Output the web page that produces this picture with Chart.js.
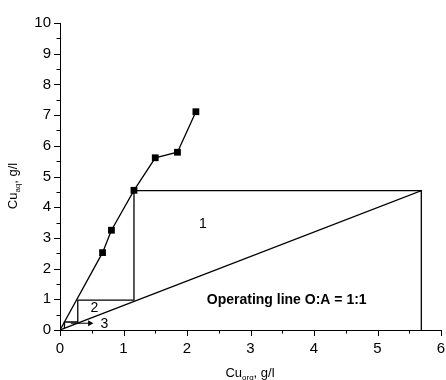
<!DOCTYPE html>
<html>
<head>
<meta charset="utf-8">
<script src="https://cdn.jsdelivr.net/npm/chart.js@4.4.1/dist/chart.umd.min.js"></script>
<style>
  body { margin: 0; background: #fff; }
  #wrap { width: 446px; height: 380px; }
</style>
</head>
<body>
<div id="wrap"><canvas id="myChart" width="446" height="380"></canvas></div>
<script>
// equilibrium curve (Cu org, Cu aq)
var eqX = [0, 0.67, 0.81, 1.165, 1.50, 1.85, 2.14];
var eqY = [0, 2.52, 3.25, 4.55, 5.61, 5.79, 7.11];

// operating line and right vertical
var opX = [0, 5.69, 5.69];
var opY = [0, 4.54, 0];

// staircase
var stepX = [5.69, 1.165, 1.165, 0.28, 0.28, 0.07, 0.07];
var stepY = [4.54, 4.54, 0.97, 0.97, 0.26, 0.26, 0.06];

// arrow toward stage 3
var arrowX = [0.17, 0.47];
var arrowY = [0.22, 0.22];

// text labels on the plot
var labelTxt = ['1', '2', '3'];
var labelX = [2.25, 0.54, 0.70];
var labelY = [3.46, 0.72, 0.20];
var noteTxt = 'Operating line O:A = 1:1';
var noteX = 3.57;
var noteY = 0.98;

var xMin = 0, xMax = 6, yMin = 0, yMax = 10;

function pts(xs, ys) {
    var out = [];
    for (var i = 0; i < xs.length; i++) out.push({x: xs[i], y: ys[i]});
    return out;
}

// ticks, labels and axis titles
var extras = {
    id: 'extras',
    afterDraw: function(chart) {
        var ctx = chart.ctx;
        var xs = chart.scales.x, ys = chart.scales.y;
        var ca = chart.chartArea;
        ctx.save();
        ctx.strokeStyle = '#000';
        ctx.lineWidth = 1;
        // tick marks, outside
        for (var v = xMin; v <= xMax + 0.001; v += 0.5) {
            var px = Math.round(xs.getPixelForValue(v)) + 0.5;
            var len = (v % 1 === 0) ? 6 : 3.5;
            ctx.beginPath(); ctx.moveTo(px, ca.bottom); ctx.lineTo(px, ca.bottom + len); ctx.stroke();
        }
        for (var w = yMin; w <= yMax + 0.001; w += 0.5) {
            var py = Math.round(ys.getPixelForValue(w)) + 0.5;
            var len2 = (w % 1 === 0) ? 6 : 3.5;
            ctx.beginPath(); ctx.moveTo(ca.left, py); ctx.lineTo(ca.left - len2, py); ctx.stroke();
        }
        ctx.fillStyle = '#000';
        ctx.textAlign = 'center';
        ctx.textBaseline = 'middle';
        ctx.font = '14px "Liberation Sans", Arial, sans-serif';
        for (var i = 0; i < labelTxt.length; i++) {
            ctx.fillText(labelTxt[i], xs.getPixelForValue(labelX[i]), ys.getPixelForValue(labelY[i]));
        }
        ctx.font = 'bold 14px "Liberation Sans", Arial, sans-serif';
        ctx.fillText(noteTxt, xs.getPixelForValue(noteX), ys.getPixelForValue(noteY));

        // axis titles with subscripts
        function title(x, y, sub) {
            ctx.textAlign = 'left';
            ctx.textBaseline = 'alphabetic';
            ctx.font = '13px "Liberation Sans", Arial, sans-serif';
            var w1 = ctx.measureText('Cu').width;
            ctx.font = '8px "Liberation Sans", Arial, sans-serif';
            var w2 = ctx.measureText(sub).width;
            ctx.font = '13px "Liberation Sans", Arial, sans-serif';
            var w3 = ctx.measureText(', g/l').width;
            var tot = w1 + w2 + w3;
            var sx = x - tot / 2;
            ctx.fillText('Cu', sx, y);
            ctx.font = '8px "Liberation Sans", Arial, sans-serif';
            ctx.fillText(sub, sx + w1, y + 3);
            ctx.font = '13px "Liberation Sans", Arial, sans-serif';
            ctx.fillText(', g/l', sx + w1 + w2, y);
        }
        title(250, 377, 'org');
        ctx.save();
        ctx.translate(17, 186);
        ctx.rotate(-Math.PI / 2);
        title(0, 0, 'aq');
        ctx.restore();
        ctx.restore();
    }
};

var lineStyle = {borderColor: '#000', borderWidth: 1.3, pointRadius: 0, showLine: true, fill: false, tension: 0};

new Chart(document.getElementById('myChart').getContext('2d'), {
    type: 'scatter',
    data: {
        datasets: [
            Object.assign({}, lineStyle, {
                data: pts(eqX, eqY),
                pointStyle: 'rect',
                pointRadius: function(c) { return c.dataIndex === 0 ? 0 : 4.8; },
                pointBackgroundColor: '#000',
                pointBorderColor: '#000',
                pointBorderWidth: 0
            }),
            Object.assign({}, lineStyle, {data: pts(opX, opY)}),
            Object.assign({}, lineStyle, {data: pts(stepX, stepY)}),
            Object.assign({}, lineStyle, {
                data: pts(arrowX, arrowY),
                borderWidth: 1,
                pointStyle: 'triangle',
                pointRotation: 90,
                pointRadius: function(c) { return c.dataIndex === 1 ? 3.5 : 0; },
                pointBackgroundColor: '#000',
                pointBorderColor: '#000',
                pointBorderWidth: 0
            })
        ]
    },
    options: {
        responsive: false,
        animation: false,
        layout: {padding: {left: 0, right: 5, top: 23, bottom: 0}},
        plugins: {legend: {display: false}, tooltip: {enabled: false}},
        scales: {
            x: {
                type: 'linear', min: xMin, max: xMax,
                grid: {display: false, drawTicks: false},
                border: {display: true, color: '#000', width: 1},
                ticks: {stepSize: 1, padding: 10, color: '#000',
                        font: {family: '"Liberation Sans", Arial, sans-serif', size: 15}},
                afterFit: function(s) { s.height = 50; s.paddingLeft = 0; s.paddingRight = 0; }
            },
            y: {
                type: 'linear', min: yMin, max: yMax,
                grid: {display: false, drawTicks: false},
                border: {display: true, color: '#000', width: 1},
                ticks: {stepSize: 1, padding: 9, color: '#000',
                        font: {family: '"Liberation Sans", Arial, sans-serif', size: 15}},
                afterFit: function(s) { s.width = 60; s.paddingTop = 0; s.paddingBottom = 0; }
            }
        }
    },
    plugins: [extras]
});
</script>
</body>
</html>
